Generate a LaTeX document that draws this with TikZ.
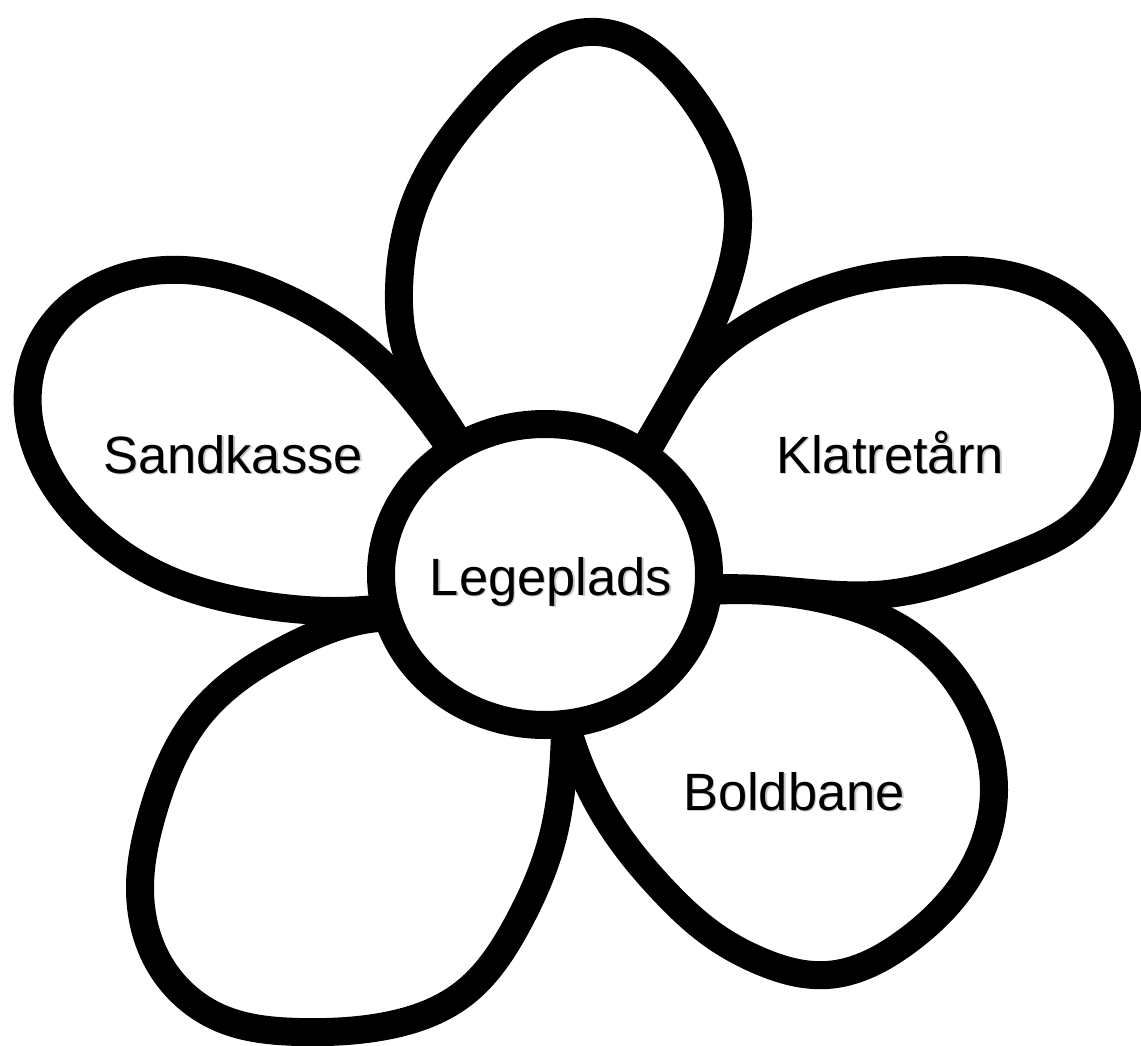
\documentclass[tikz,border=0pt]{standalone}
\usepackage{fontspec}
\setmainfont{Liberation Sans}
\usetikzlibrary{shapes.geometric,hobby}
\begin{document}
\begin{tikzpicture}[x=1pt,y=-1pt,
  petal/.style={draw=black,line width=28pt,line join=round,use Hobby shortcut},
  heart/.style={draw=black,fill=white,line width=28pt},
  lbl/.style={font=\fontsize{52.5}{63}\selectfont,anchor=base,inner sep=0pt},
  shadowlbl/.style={lbl,text=black!22}]
\useasboundingbox (0,0) rectangle (1141,1046);
\fill[white] (0,0) rectangle (1141,1046);
% top petal
\draw[petal] (475,475) .. (455,437) .. (406,350) .. (399,290) .. (416,200) .. (490,92) .. (597,32) .. (688,92) .. (738,217) .. (727,283) .. (676,395) .. (650,440) .. (630,475);
% Sandkasse petal
\draw[petal] (480,490) .. (450,447) .. (380,362) .. (267,290) .. (183,270) .. (97,288) .. (40,345) .. (28,410) .. (50,478) .. (90,528) .. (158,575) .. (250,603) .. (333,611) .. (420,602);
% bottom-left petal
\draw[petal] (420,620) .. (378,618) .. (290,647) .. (202,712) .. (152,815) .. (140,890) .. (160,965) .. (220,1018) .. (300,1032) .. (380,1027) .. (463,994) .. (518,923) .. (552,840) .. (564,756) .. (565,700);
% Boldbane petal
\draw[petal] (700,592) .. (827,600) .. (900,628) .. (975,712) .. (994,790) .. (962,886) .. (907,941) .. (827,975) .. (760,961) .. (713,935) .. (663,890) .. (613,828) .. (565,720);
% Klatretaarn petal
\draw[petal] (630,480) .. (663,423) .. (700,367) .. (760,320) .. (860,280) .. (927,271) .. (1027,280) .. (1100,330) .. (1128,413) .. (1110,480) .. (1077,523) .. (1010,558) .. (887,594) .. (760,589) .. (700,589);
% centre
\node[heart,ellipse,minimum width=328pt,minimum height=301pt,inner sep=0pt] (c) at (545,574.5) {};
% labels
\node[shadowlbl] at (552.5,596.5) {Legeplads};
\node[lbl] (lc) at (551,595) {Legeplads};
\node[shadowlbl] at (234.5,474.5) {Sandkasse};
\node[lbl] (ls) at (233,473) {Sandkasse};
\node[shadowlbl] at (891.5,474.5) {Klatretårn};
\node[lbl] (lk) at (890,473) {Klatretårn};
\node[shadowlbl] at (795.5,811.5) {Boldbane};
\node[lbl] (lb) at (794,810) {Boldbane};
\end{tikzpicture}
\end{document}
